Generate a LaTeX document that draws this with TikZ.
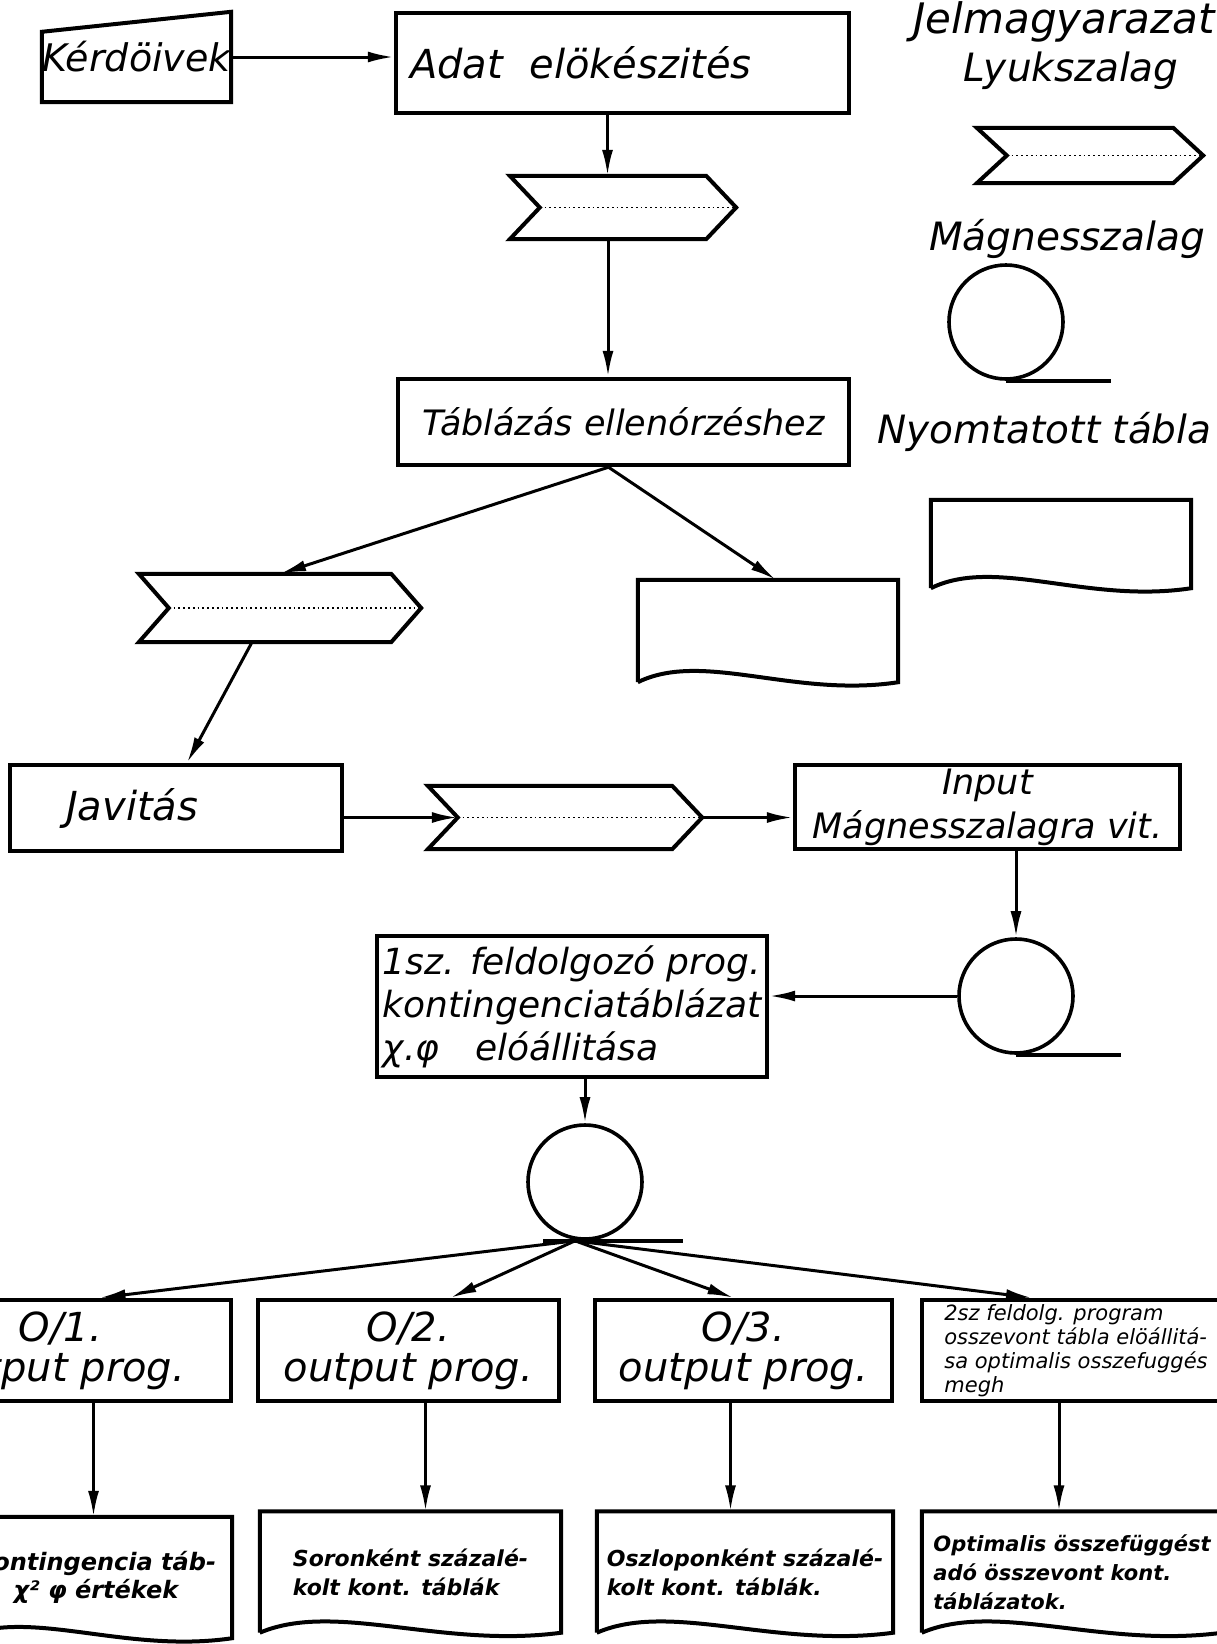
\documentclass[tikz,border=0pt]{standalone}
\usepackage{fontspec}
\setmainfont{DejaVu Sans}[ItalicFont={DejaVu Sans Oblique},BoldFont={DejaVu Sans Bold},BoldItalicFont={DejaVu Sans Bold Oblique}]
\usepackage{tikz}
\usetikzlibrary{arrows.meta,positioning,calc}

\begin{document}
\begin{tikzpicture}[
  x=1pt, y=-1pt,
  box/.style={draw, line width=4.4pt, inner sep=2pt, align=center, font=\fontsize{40}{40}\selectfont\itshape},
  tapebox/.style={minimum width=#1, minimum height=63, inner sep=0pt},
  magtape/.style={circle, draw, line width=3.6pt, minimum size=114, inner sep=0pt},
  printout/.style={inner sep=0pt, align=left, font=\fontsize{22}{29}\selectfont\bfseries\itshape},
  legend/.style={font=\fontsize{39}{44}\selectfont\itshape},
  arrow/.style={-{Latex[length=26pt,width=11pt]}, line width=3pt},
  outline/.style={line width=4pt}
]
\useasboundingbox (0,0) rectangle (1217,1644);
\clip (0,0) rectangle (1217,1644);

% felso sor
\node[minimum width=189, minimum height=90, inner sep=0pt, font=\fontsize{38}{40}\selectfont\itshape] (kerd) at (136.5,57) {Kérdöivek};
\node[box, minimum width=453, minimum height=100, text width=425, align=left] (adat) at (622.5,63) {Adat\ \ elökészités};
\node[tapebox=226] (tape1) at (623,207.5) {};
\node[box, minimum width=451, minimum height=86, font=\fontsize{35}{40}\selectfont\itshape] (tabl) at (623.5,422) {Táblázás\ ellenórzéshez};
\node[tapebox=282, minimum height=68] (tape2) at (280,608) {};
\node[minimum width=260, minimum height=102, inner sep=0pt] (pdoc) at (768,631) {};
\node[box, minimum width=332, minimum height=86, text width=300, align=left] (javitas) at (176,808) {\hspace*{40pt}Javitás};
\node[tapebox=274] (tape3) at (565,817.5) {};
\node[box, minimum width=385, minimum height=84, font=\fontsize{35}{44}\selectfont\itshape] (inp) at (987.5,807) {Input\\Mágnesszalagra vit.};
\node[magtape] (mt2) at (1016,996) {};
\node[box, minimum width=390, minimum height=141, align=left, font=\fontsize{36}{43}\selectfont\itshape] (p1) at (572,1006.5) {1sz. feldolgozó prog.\\kontingenciatáblázat\\χ.φ\quad elóállitása};
\node[magtape] (mt3) at (585,1182) {};

% output programok
\node[box, minimum width=341, minimum height=101] (o1) at (60.5,1350.5) {O/1.\\output prog.};
\node[box, minimum width=301, minimum height=101] (o2) at (408.5,1350.5) {O/2.\\output prog.};
\node[box, minimum width=297, minimum height=101] (o3) at (743.5,1350.5) {O/3.\\output prog.};
\node[box, minimum width=308, minimum height=101, align=left, font=\fontsize{21}{24}\selectfont\itshape] (o4) at (1076,1350.5) {2sz feldolg. program\\osszevont tábla elöállitá-\\sa optimalis osszefuggés\\megh};

% nyomtatott tablak
\node[printout, align=center, minimum width=272, minimum height=121, font=\fontsize{24}{28}\selectfont\bfseries\itshape] (d1) at (96,1577.5) {Kontingencia táb-\\χ² φ értékek};
\node[printout, minimum width=301, minimum height=121] (d2) at (410.5,1572) {Soronként százalé-\\kolt kont. táblák};
\node[printout, minimum width=296, minimum height=121] (d3) at (745,1572) {Oszloponként százalé-\\kolt kont. táblák.};
\node[printout, minimum width=300, minimum height=121, font=\fontsize{21}{29}\selectfont\bfseries\itshape] (d4) at (1072,1572) {Optimalis összefüggést\\adó összevont kont.\\táblázatok.};

% jelmagyarazat
\node[legend, font=\fontsize{42}{46}\selectfont\itshape, anchor=west] (ltitle) at (910,22) {Jelmagyarazat};
\node[legend] (lpunch) at (1071,71) {Lyukszalag};
\node[tapebox=226, minimum height=55] (ltape) at (1090,155.5) {};
\node[legend] (lmag) at (1067,239) {Mágnesszalag};
\node[magtape] (lmt) at (1006,322) {};
\node[legend, anchor=east] (lprint) at (1215,432) {Nyomtatott tábla};
\node[minimum width=260, minimum height=88, inner sep=0pt] (ldoc) at (1061,544) {};

% jelek rajza
\draw[outline] (kerd.south west) -- ([yshift=-20pt]kerd.north west) -- (kerd.north east) -- (kerd.south east) -- cycle;
\foreach \t in {tape1,tape2,tape3,ltape}{
  \draw[outline] (\t.north west) -- ([xshift=-30pt]\t.north east) -- (\t.east)
    -- ([xshift=-30pt]\t.south east) -- (\t.south west) -- ([xshift=30pt]\t.west) -- cycle;
  \draw[line width=1.8pt, dash pattern=on 1.8pt off 3pt] ([xshift=30pt]\t.west) -- (\t.east);
}
\foreach \d in {pdoc,ldoc,d1,d2,d3,d4}{
  \draw[outline] (\d.south west) -- (\d.north west) -- (\d.north east) -- (\d.south east)
    .. controls ($(\d.south west)!0.6!(\d.south east)+(0,16)$) and ($(\d.south west)!0.25!(\d.south east)+(0,-32)$) .. (\d.south west);
}
\foreach \m in {lmt,mt2}
  \draw[outline] (\m.south) -- ++(105,0);
\draw[outline] ([xshift=-42pt]mt3.south) -- ([xshift=98pt]mt3.south);

% kapcsolatok
\draw[arrow] (kerd.east) -- (kerd.east -| adat.west);
\draw[arrow] ([xshift=-15pt]adat.south) -- ([xshift=-15pt]adat.south |- tape1.north);
\draw[arrow] ([xshift=-15pt]tape1.south) -- ([xshift=-15pt]tape1.south |- tabl.north);
\draw[arrow] ([xshift=-15pt]tabl.south) -- (tape2.north);
\draw[arrow] ([xshift=-15pt]tabl.south) -- ([xshift=8pt]pdoc.north);
\draw[arrow] ([xshift=-28pt]tape2.south) -- ([xshift=11pt]javitas.north);
\draw[arrow] (javitas.east |- tape3.west) -- ([xshift=30pt]tape3.west);
\draw[arrow] (tape3.east) -- (tape3.east -| inp.west);
\draw[arrow] (mt2.north |- inp.south) -- (mt2.north);
\draw[arrow] (mt2.west) -- (mt2.west -| p1.east);
\draw[arrow] (mt3.north |- p1.south) -- (mt3.north);
\draw[arrow] ([xshift=-10pt]mt3.south) -- ([xshift=39pt]o1.north);
\draw[arrow] ([xshift=-10pt]mt3.south) -- ([xshift=42pt]o2.north);
\draw[arrow] ([xshift=-10pt]mt3.south) -- ([xshift=-10pt]o3.north);
\draw[arrow] ([xshift=-10pt]mt3.south) -- ([xshift=-44pt]o4.north);
\draw[arrow] ([xshift=33pt]o1.south) -- ([xshift=33pt]o1.south |- d1.north);
\draw[arrow] ([xshift=17pt]o2.south) -- ([xshift=17pt]o2.south |- d2.north);
\draw[arrow] ([xshift=-13pt]o3.south) -- ([xshift=-13pt]o3.south |- d3.north);
\draw[arrow] ([xshift=-17pt]o4.south) -- ([xshift=-17pt]o4.south |- d4.north);
\end{tikzpicture}
\end{document}
